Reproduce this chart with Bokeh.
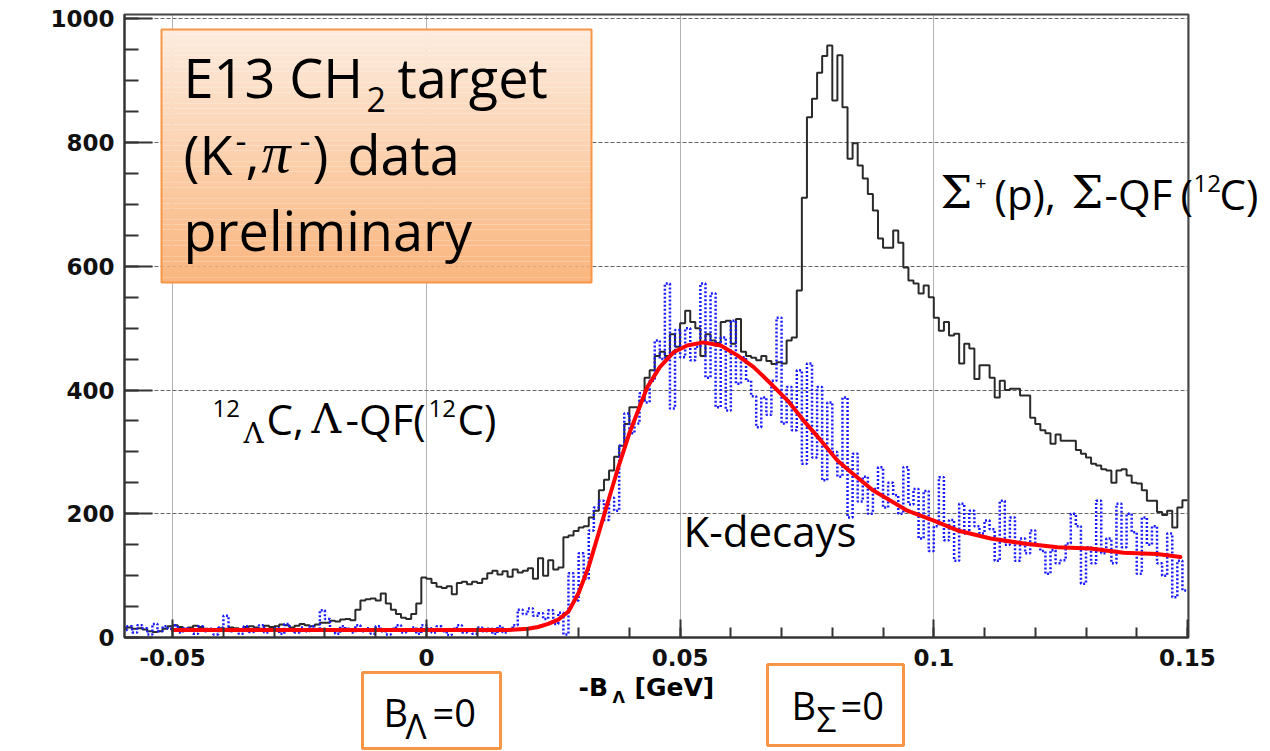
import numpy as np
from bokeh.plotting import figure
from bokeh.models import (Range1d, FixedTicker, ColumnDataSource,
                          CustomJSTickFormatter)
from bokeh.embed import file_html
from bokeh.resources import INLINE

# ---------------------------------------------------------------------------
# Data: 1 MeV bins, left edges from -60 MeV to 149 MeV
# ---------------------------------------------------------------------------
bin_left_mev = np.arange(-60, 150)

# E13 CH2 target (K-,pi-) spectrum, counts per bin
ch2_counts = [
    15, 16, 14, 15, 13, 10, 9, 10, 14, 18,          # -60 .. -51
    20, 17, 14, 16, 19, 17, 14, 12, 13, 15,         # -50 .. -41
    14, 16, 15, 13, 17, 18, 16, 14, 19, 17,         # -40 .. -31
    18, 21, 20, 16, 19, 22, 20, 18, 21, 24,         # -30 .. -21
    24, 27, 26, 29, 30, 28, 45, 60, 62, 63,         # -20 .. -11
    60, 71, 55, 45, 38, 32, 30, 38, 55, 97,         # -10 .. -1
    95, 88, 82, 80, 83, 70, 88, 90, 86, 90,         #   0 .. 9
    88, 95, 104, 108, 102, 107, 98, 110, 105, 108,  #  10 .. 19
    112, 95, 128, 100, 125, 110, 113, 162, 165, 172,  # 20 .. 29
    178, 180, 194, 205, 238, 255, 270, 292, 310, 345,  # 30 .. 39
    372, 372, 383, 420, 432, 455, 462, 455, 490, 470,  # 40 .. 49
    508, 528, 510, 500, 455, 490, 480, 476, 510, 512,  # 50 .. 59
    475, 515, 462, 455, 452, 448, 455, 447, 442, 445,  # 60 .. 69
    443, 480, 485, 561, 711, 841, 871, 913, 940, 957,  # 70 .. 79
    868, 941, 857, 774, 799, 763, 742, 717, 690, 645,  # 80 .. 89
    630, 630, 658, 638, 598, 577, 572, 556, 569, 550,  # 90 .. 99
    517, 496, 510, 488, 491, 443, 475, 467, 418, 440,  # 100 .. 109
    440, 420, 388, 415, 400, 402, 402, 391, 391, 355,  # 110 .. 119
    345, 335, 330, 313, 328, 318, 318, 318, 303, 297,  # 120 .. 129
    291, 281, 278, 272, 270, 250, 270, 272, 262, 250,  # 130 .. 139
    249, 238, 221, 221, 203, 198, 205, 178, 210, 222,  # 140 .. 149
]

# K-decay background spectrum, counts per bin
kdecay_counts = [
    12, 18, 8, 20, 15, 5, 22, 10, 18, 14,
    20, 8, 15, 12, 6, 18, 10, 14, 5, 16,
    35, 10, 12, 6, 18, 9, 14, 20, 8, 12,
    15, 6, 22, 12, 8, 16, 10, 18, 12, 44,
    30, 12, 6, 18, 14, 8, 20, 10, 15, 6,
    18, 10, 5, 14, 20, 8, 12, 16, 6, 20,
    15, 8, 18, 10, 4, 14, 20, 8, 12, 6,
    16, 10, 14, 6, 18, 8, 12, 20, 45, 38,
    47, 35, 39, 30, 44, 22, 40, 5, 104, 60,
    136, 95, 173, 210, 221, 190, 226, 205, 310, 362,
    330, 346, 395, 380, 415, 480, 450, 572, 370, 497,
    453, 500, 448, 470, 572, 420, 556, 372, 485, 367,
    512, 410, 453, 415, 390, 340, 388, 360, 415, 517,
    346, 405, 335, 432, 281, 443, 291, 405, 254, 380,
    300, 260, 388, 194, 297, 220, 260, 200, 240, 275,
    210, 250, 230, 200, 275, 215, 240, 160, 237, 140,
    180, 259, 157, 190, 124, 216, 168, 205, 180, 168,
    189, 175, 124, 221, 150, 194, 124, 160, 136, 173,
    150, 140, 103, 141, 120, 125, 152, 200, 180, 87,
    146, 120, 221, 136, 160, 120, 216, 146, 200, 170,
    103, 194, 150, 180, 120, 100, 168, 65, 124, 76,
]

# Fitted K-decay shape
fit_x_mev = [-50, -40, -30, -20, -10, 0, 10, 16, 20, 22,
             24, 26, 28, 30, 32, 34, 36, 38, 40, 43.5,
             46, 48.7, 51.4, 54.6, 58, 61.3, 64.5, 67.8, 71.2, 74.3,
             77.7, 81, 84, 88, 94.8, 100, 104.7, 111.2, 117.7, 124.4,
             130.9, 137.4, 144, 148.6]
fit_counts = [12, 12, 12, 12, 12, 12, 12, 12, 14, 17,
              22, 29, 42, 72, 115, 170, 225, 280, 330, 404,
              437, 461, 472, 477, 472, 456, 437, 411, 383, 351,
              319, 286, 265, 238, 205, 189, 173, 160, 152, 146,
              144, 137, 135, 130]

x_ticks = [-0.05, 0.0, 0.05, 0.1, 0.15]
y_ticks = [0, 200, 400, 600, 800, 1000]
x_minor = [round(-0.06 + 0.01 * i, 3) for i in range(22)]
y_minor = list(range(0, 1001, 50))

# ---------------------------------------------------------------------------
# Figure geometry
# ---------------------------------------------------------------------------
W, H = 1270, 751
FRAME_L, FRAME_T, FRAME_W, FRAME_H = 124, 14, 1064, 623
X0, X1 = -0.0595, 0.1502
Y0, Y1 = 0, 1007

p = figure(width=W, height=H, output_backend="svg", toolbar_location=None,
           x_range=Range1d(X0, X1), y_range=Range1d(Y0, Y1),
           min_border_left=FRAME_L, min_border_top=FRAME_T,
           min_border_right=W - FRAME_L - FRAME_W,
           min_border_bottom=H - FRAME_T - FRAME_H)
p.background_fill_color = "white"
p.border_fill_color = "white"
p.outline_line_color = "#444444"
p.outline_line_width = 2


def at(px, py):
    """Canvas pixel position -> data coordinates."""
    return (X0 + (px - FRAME_L) / FRAME_W * (X1 - X0),
            Y0 + (FRAME_T + FRAME_H - py) / FRAME_H * (Y1 - Y0))


# axes
for ax, ticks, minor in ((p.xaxis[0], x_ticks, x_minor),
                         (p.yaxis[0], y_ticks, y_minor)):
    ax.ticker = FixedTicker(ticks=ticks, minor_ticks=minor)
    ax.axis_line_color = "#333333"
    ax.axis_line_width = 2
    ax.major_tick_line_color = "#333333"
    ax.major_tick_line_width = 2
    ax.minor_tick_line_color = "#333333"
    ax.minor_tick_line_width = 2
    ax.major_tick_out = 0
    ax.minor_tick_out = 0
    ax.major_label_text_font = "DejaVu Sans"
    ax.major_label_text_font_style = "bold"
    ax.major_label_text_font_size = "23px"
    ax.major_label_text_color = "#111111"

p.xaxis.major_tick_in = 18
p.xaxis.minor_tick_in = 10
p.xaxis.major_label_standoff = 11
p.xaxis.formatter = CustomJSTickFormatter(
    code="return String(Math.round(tick * 100) / 100);")
p.yaxis.major_tick_in = 28
p.yaxis.minor_tick_in = 14
p.yaxis.major_label_standoff = 10

p.xgrid.ticker = FixedTicker(ticks=x_ticks)
p.ygrid.ticker = FixedTicker(ticks=y_ticks)
p.xgrid.grid_line_color = "#666666"
p.xgrid.grid_line_dash = "1 1"
p.xgrid.grid_line_width = 1
p.ygrid.grid_line_color = "#666666"
p.ygrid.grid_line_dash = "4 2"
p.ygrid.grid_line_width = 1

# ---------------------------------------------------------------------------
# Spectra
# ---------------------------------------------------------------------------
edges = np.append(bin_left_mev, bin_left_mev[-1] + 1) / 1000.0
p.step(edges, ch2_counts + [ch2_counts[-1]], mode="after",
       line_color="#2a2a2a", line_width=2)
p.step(edges, kdecay_counts + [kdecay_counts[-1]], mode="after",
       line_color="#1a1aff", line_width=2.5, line_dash="2 2")
p.line(np.array(fit_x_mev) / 1000.0, fit_counts, line_color="#ff0000",
       line_width=4, line_join="round", line_cap="round")

# ---------------------------------------------------------------------------
# Title box with vertical gradient
# ---------------------------------------------------------------------------
box_l, box_r, box_t, box_b = 161, 591, 29, 282
n_strips = 48
top_rgb = np.array([253, 236, 222])
bot_rgb = np.array([250, 182, 126])
lefts, rights, tops, bottoms, colors = [], [], [], [], []
for i in range(n_strips):
    f = i / (n_strips - 1)
    py0 = box_t + (box_b - box_t) * i / n_strips
    py1 = box_t + (box_b - box_t) * (i + 1) / n_strips
    xl, yt = at(box_l, py0)
    xr, yb = at(box_r, py1)
    lefts.append(xl); rights.append(xr); tops.append(yt); bottoms.append(yb)
    c = (top_rgb + (bot_rgb - top_rgb) * f).astype(int)
    colors.append("#%02x%02x%02x" % tuple(c))
p.quad(left=lefts, right=rights, top=tops, bottom=bottoms,
       fill_color=colors, line_color=None)
bl, bt = at(box_l, box_t)
br, bb = at(box_r, box_b)
p.quad(left=[bl], right=[br], top=[bt], bottom=[bb], fill_color=None,
       line_color="#f79646", line_width=2)

# threshold marker boxes below the axis
mk = [at(l, t) + at(r, b) for (l, r, t, b) in
      ((362, 500, 672, 748), (767, 903, 664, 745))]
p.quad(left=[m[0] for m in mk], top=[m[1] for m in mk],
       right=[m[2] for m in mk], bottom=[m[3] for m in mk],
       fill_color="white", line_color="#f79646", line_width=3,
       level="overlay")

# ---------------------------------------------------------------------------
# Text runs: (text, x px, baseline px, size px, font, style)
# ---------------------------------------------------------------------------
OS, SER, DJ = "Open Sans", "DejaVu Serif", "DejaVu Sans"
runs = [
    # title box
    ("E13 CH", 183, 99, 54, OS, "normal"),
    ("2", 366, 113, 34, OS, "normal"),
    ("target", 397, 99, 54, OS, "normal"),
    ("(K", 183, 176, 54, OS, "normal"),
    ("-", 235, 154, 34, OS, "normal"),
    (",", 245, 176, 54, OS, "normal"),
    ("\u03c0", 261, 176, 58, "Liberation Serif", "italic"),
    ("-", 299, 154, 34, OS, "normal"),
    (")", 312, 176, 54, OS, "normal"),
    ("data", 347, 176, 54, OS, "normal"),
    ("preliminary", 183, 252, 54, OS, "normal"),
    # Sigma region
    ("\u03a3", 940, 211, 45, SER, "normal"),
    ("+", 975, 191, 19, OS, "normal"),
    ("(p),", 994, 211, 42, OS, "normal"),
    ("\u03a3", 1071, 211, 45, SER, "normal"),
    ("-QF", 1104, 211, 42, OS, "normal"),
    ("(", 1180, 211, 42, OS, "normal"),
    ("12", 1193, 193, 24, OS, "normal"),
    ("C)", 1219, 211, 42, OS, "normal"),
    # Lambda region
    ("12", 212, 418, 24, OS, "normal"),
    ("\u039b", 243, 445, 28, SER, "normal"),
    ("C,", 266, 436, 42, OS, "normal"),
    ("\u039b", 311, 436, 41, SER, "normal"),
    ("-QF(", 345, 436, 42, OS, "normal"),
    ("12", 428, 418, 24, OS, "normal"),
    ("C)", 457, 436, 42, OS, "normal"),
    ("K-decays", 683, 548, 42, OS, "normal"),
    # axis title
    ("-B", 578, 697, 25, DJ, "bold"),
    ("\u039b", 612, 704, 16, DJ, "bold"),
    ("[GeV]", 634, 697, 25, DJ, "bold"),
    # threshold markers
    ("B", 383, 727, 38, OS, "normal"),
    ("\u039b", 405, 740, 35, OS, "normal"),
    ("=0", 432, 727, 38, OS, "normal"),
    ("B", 791, 720, 38, OS, "normal"),
    ("\u03a3", 816, 733, 35, OS, "normal"),
    ("=0", 840, 720, 38, OS, "normal"),
]
# the rendered alphabetic baseline lands about 0.42 em below the anchor,
# so each run is lifted by that amount
LIFT = 0.42
pos = [at(r[1], r[2] - LIFT * r[3]) for r in runs]
src = ColumnDataSource(dict(
    x=[q[0] for q in pos], y=[q[1] for q in pos],
    text=[r[0] for r in runs],
    size=[f"{r[3]}px" for r in runs],
    font=[r[4] for r in runs],
    style=[r[5] for r in runs],
))
p.text(x="x", y="y", text="text", source=src, text_font="font",
       text_font_size="size", text_font_style="style",
       text_baseline="alphabetic", text_align="left", text_color="black",
       level="overlay")

open("out.html", "w").write(file_html(p, INLINE))
